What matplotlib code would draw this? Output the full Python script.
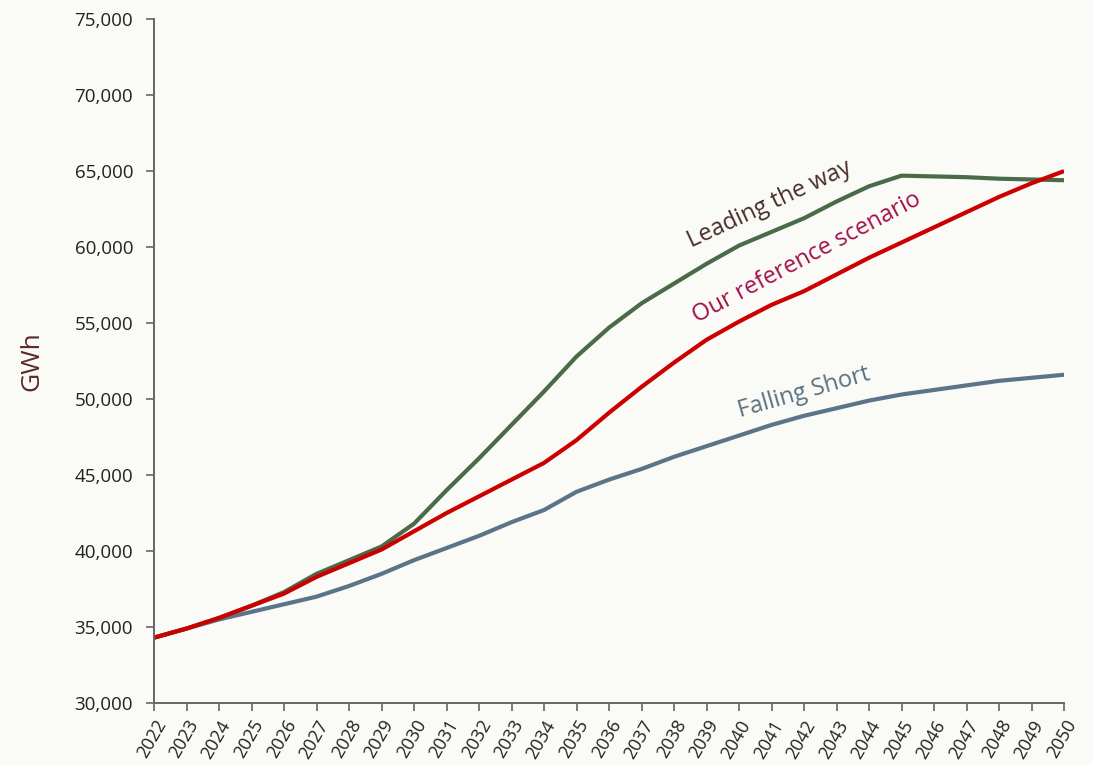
import matplotlib.pyplot as plt
from matplotlib.ticker import FuncFormatter

years = list(range(2022, 2051))

# GWh per scenario
leading = [34300, 34900, 35600, 36400, 37300, 38500, 39400, 40300, 41800, 44000,
           46100, 48300, 50500, 52800, 54700, 56300, 57600, 58900, 60100, 61000,
           61900, 63000, 64000, 64700, 64650, 64600, 64500, 64450, 64400]
reference = [34300, 34900, 35600, 36400, 37200, 38300, 39200, 40100, 41300, 42500,
             43600, 44700, 45800, 47300, 49100, 50800, 52400, 53900, 55100, 56200,
             57100, 58200, 59300, 60300, 61300, 62300, 63300, 64200, 65000]
falling = [34300, 34900, 35500, 36000, 36500, 37000, 37700, 38500, 39400, 40200,
           41000, 41900, 42700, 43900, 44700, 45400, 46200, 46900, 47600, 48300,
           48900, 49400, 49900, 50300, 50600, 50900, 51200, 51400, 51600]

bg = '#fafaf6'
axis_col = '#6b6363'
plt.rcParams['font.family'] = ['Open Sans', 'DejaVu Sans']

fig = plt.figure(figsize=(10.93, 7.65), dpi=100, facecolor=bg)
ax = fig.add_axes([0.1409, 0.081, 0.8326, 0.894], facecolor=bg)

ax.plot(years, falling, color='#5b7489', lw=3.0, solid_capstyle='butt')
ax.plot(years, leading, color='#4a6b4a', lw=3.0, solid_capstyle='butt')
ax.plot(years, reference, color='#cc0000', lw=3.0, solid_capstyle='butt')

ax.set_xlim(2022, 2050)
ax.set_ylim(30000, 75000)
ax.set_xticks(years)
ax.set_xticklabels([str(y) for y in years], rotation=60, ha='right',
                   rotation_mode='anchor', fontsize=13, color='#222222')
ax.set_yticks(range(30000, 75001, 5000))
ax.yaxis.set_major_formatter(FuncFormatter(lambda v, p: f'{int(v):,}'))
ax.tick_params(axis='y', labelsize=13.5, colors='#222222', length=6,
               width=1.2, direction='out', color=axis_col, pad=9)
ax.tick_params(axis='x', length=6, width=1.2, direction='out', color=axis_col, pad=4)

for s in ['top', 'right']:
    ax.spines[s].set_visible(False)
for s in ['left', 'bottom']:
    ax.spines[s].set_color(axis_col)
    ax.spines[s].set_linewidth(1.4)

ax.set_ylabel('GWh', fontsize=19, color='#5a2a2a', labelpad=22)

ax.text(2040.95, 62800, 'Leading the way', rotation=25, color='#4a2b2b',
        fontsize=17, ha='center', va='center')
ax.text(2042.1, 59300, 'Our reference scenario', rotation=28, color='#a3104e',
        fontsize=17, ha='center', va='center')
ax.text(2042.0, 50450, 'Falling Short', rotation=16, color='#5a7080',
        fontsize=17, ha='center', va='center')

fig.savefig('out.png', dpi=100, facecolor=bg)
